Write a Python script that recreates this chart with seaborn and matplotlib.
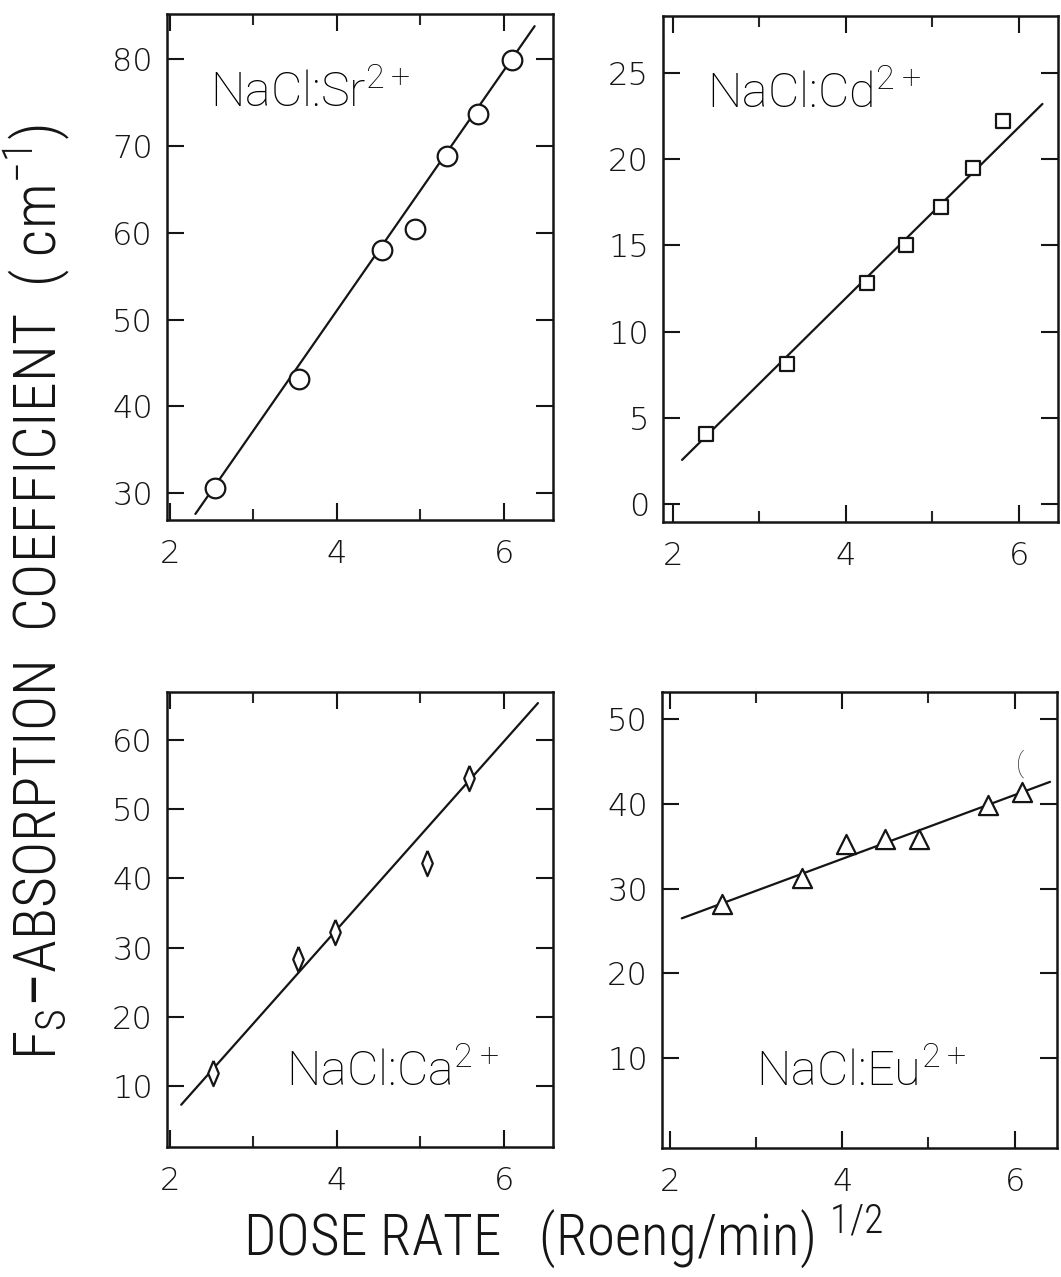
import matplotlib
matplotlib.use("Agg")
import matplotlib.pyplot as plt
import seaborn as sns
from matplotlib import font_manager
from matplotlib.ticker import FixedLocator

# ---------------- data ----------------
sr_x = [2.55, 3.55, 4.54, 4.94, 5.32, 5.69, 6.10]
sr_y = [30.6, 43.2, 58.0, 60.4, 68.8, 73.7, 79.9]
sr_fit_x = [2.31, 6.37]
sr_fit_y = [27.6, 83.8]

cd_x = [2.39, 3.32, 4.24, 4.70, 5.10, 5.47, 5.81]
cd_y = [4.06, 8.1, 12.8, 15.0, 17.2, 19.5, 22.2]
cd_fit_x = [2.11, 6.27]
cd_fit_y = [2.56, 23.2]

ca_x = [2.52, 3.54, 3.98, 5.08, 5.58]
ca_y = [11.9, 28.4, 32.2, 42.2, 54.5]
ca_fit_x = [2.14, 6.41]
ca_fit_y = [7.3, 65.3]

eu_x = [2.60, 3.53, 4.04, 4.50, 4.89, 5.69, 6.08]
eu_y = [28.2, 31.2, 35.3, 35.8, 35.8, 39.9, 41.4]
eu_fit_x = [2.14, 6.41]
eu_fit_y = [26.5, 42.6]

x_ticks = [2, 4, 6]
x_minor = [3, 5]
sr_yticks = [30, 40, 50, 60, 70, 80]
cd_yticks = [0, 5, 10, 15, 20, 25]
ca_yticks = [10, 20, 30, 40, 50, 60]
eu_yticks = [10, 20, 30, 40, 50]

labels = [r"NaCl:Sr$^{\mathregular{2+}}$", r"NaCl:Cd$^{\mathregular{2+}}$",
          r"NaCl:Ca$^{\mathregular{2+}}$", r"NaCl:Eu$^{\mathregular{2+}}$"]
x_title = r"DOSE RATE   (Roeng/min)$^{\mathregular{\ 1/2}}$"
y_title = r"F$_\mathregular{S}$$-$ABSORPTION  COEFFICIENT  ( cm$^{\mathregular{-1}}$)"

# ---------------- style ----------------
sns.set_style("ticks")
available = {f.name for f in font_manager.fontManager.ttflist}

def pick(*names):
    for n in names:
        if n in available:
            return n
    return "DejaVu Sans"

tick_font = pick("DejaVu Sans")
label_font = pick("Roboto", "Liberation Sans", "DejaVu Sans")
title_font = pick("Liberation Sans Narrow", "Roboto Condensed", "Roboto", "Liberation Sans")
plt.rcParams["font.family"] = [tick_font]
plt.rcParams["mathtext.fontset"] = "custom"
plt.rcParams["mathtext.rm"] = label_font

W, H = 1061, 1277
fig = plt.figure(figsize=(W / 100, H / 100), dpi=100)

def px_axes(left, top, right, bottom):
    return fig.add_axes([left / W, 1 - bottom / H, (right - left) / W, (bottom - top) / H])

panels = [
    dict(box=(167, 14, 553, 520), x=sr_x, y=sr_y, fx=sr_fit_x, fy=sr_fit_y,
         xlim=(1.97, 6.59), ylim=(26.9, 85.2), yt=sr_yticks, marker="o", s=200,
         lab=labels[0], lxy=(2.48, 74.4)),
    dict(box=(663, 16, 1058, 522), x=cd_x, y=cd_y, fx=cd_fit_x, fy=cd_fit_y,
         xlim=(1.89, 6.45), ylim=(-1.04, 28.3), yt=cd_yticks, marker="s", s=90,
         lab=labels[1], lxy=(2.40, 22.9)),
    dict(box=(167, 692, 553, 1147), x=ca_x, y=ca_y, fx=ca_fit_x, fy=ca_fit_y,
         xlim=(1.97, 6.59), ylim=(1.2, 66.9), yt=ca_yticks,
         marker=[(0, 1), (0.42, 0), (0, -1), (-0.42, 0), (0, 1)], s=330,
         lab=labels[2], lxy=(3.40, 9.9)),
    dict(box=(662, 692, 1057, 1148), x=eu_x, y=eu_y, fx=eu_fit_x, fy=eu_fit_y,
         xlim=(1.91, 6.49), ylim=(-0.6, 53.2), yt=eu_yticks, marker="^", s=190,
         lab=labels[3], lxy=(3.00, 6.6)),
]

ink = "#151515"
for p in panels:
    ax = px_axes(*p["box"])
    sns.lineplot(x=p["fx"], y=p["fy"], ax=ax, color=ink, linewidth=1.6, zorder=2)
    sns.scatterplot(x=p["x"], y=p["y"], ax=ax, marker=p["marker"], s=p["s"],
                    facecolor="white", edgecolor=ink, linewidth=1.6, zorder=3)
    ax.set_xlim(*p["xlim"])
    ax.set_ylim(*p["ylim"])
    ax.xaxis.set_major_locator(FixedLocator(x_ticks))
    ax.xaxis.set_minor_locator(FixedLocator(x_minor))
    ax.yaxis.set_major_locator(FixedLocator(p["yt"]))
    ax.tick_params(axis="both", which="major", direction="in", length=12, width=1.5,
                   top=True, right=True, labelsize=23, colors=ink)
    ax.tick_params(axis="x", which="minor", direction="in", length=8, width=1.5,
                   top=True, bottom=True)
    ax.tick_params(axis="x", which="major", pad=14)
    ax.tick_params(axis="y", which="major", pad=10)
    for lbl in ax.get_xticklabels() + ax.get_yticklabels():
        lbl.set_fontweight("light")
    for sp in ax.spines.values():
        sp.set_visible(True)
        sp.set_linewidth(1.8)
        sp.set_color(ink)
    ax.set_xlabel("")
    ax.set_ylabel("")
    ax.text(p["lxy"][0], p["lxy"][1], p["lab"], fontsize=35, family=label_font,
            fontweight="light", color="black", ha="left", va="baseline")
    p["ax"] = ax

# small hand mark above the last Eu point
panels[3]["ax"].text(6.06, 43.0, "(", fontsize=20, family=label_font, color="#333333",
                     ha="center", va="bottom", fontweight="light")

fig.text(37 / W, 1 - 592 / H, y_title, rotation=90, ha="center", va="center",
         fontsize=43, family=title_font, fontweight="light", color=ink)
fig.text(563 / W, 1 - 1255 / H, x_title, ha="center", va="baseline",
         fontsize=41, family=title_font, fontweight="light", color=ink)

fig.savefig("out.png", dpi=100, facecolor="white")
